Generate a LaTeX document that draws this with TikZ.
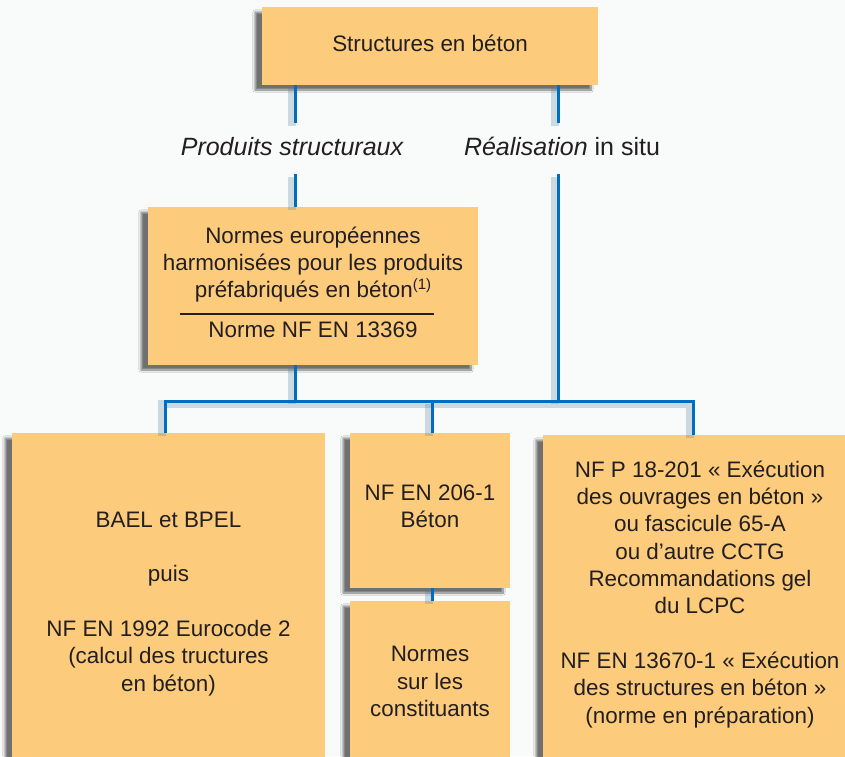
\documentclass[tikz,border=0pt]{standalone}
\usepackage{fontspec}
\setmainfont{Liberation Sans}
\usetikzlibrary{shadows.blur}

\definecolor{boxfill}{RGB}{252,203,123}
\definecolor{linkblue}{RGB}{0,110,190}
\definecolor{inkgrey}{RGB}{35,31,32}
\definecolor{paper}{RGB}{249,250,250}
\newcommand{\boxfont}{\fontsize{22.4pt}{27.3pt}\selectfont}
\newcommand{\branchfont}{\fontsize{25pt}{30pt}\selectfont}
\newcommand{\notemark}[1]{\raisebox{8pt}{\fontsize{15pt}{15pt}\selectfont #1}}

\begin{document}
\begin{tikzpicture}[x=1pt, y=-1pt,
	normbox/.style={rectangle, fill=boxfill, align=center, text=inkgrey, font=\boxfont, inner sep=0pt,
		blur shadow={shadow xshift=-7pt, shadow yshift=-5pt, shadow blur steps=10, shadow opacity=55},
		execute at begin node=\strut, execute at end node=\strut},
	branch/.style={text=inkgrey, font=\branchfont, anchor=base, text height=18pt, text depth=5pt,
		inner xsep=0pt, inner ysep=14pt},
	link/.style={draw=linkblue, line width=3pt,
		preaction={draw=linkblue!40!gray, line width=8pt, opacity=.25,
			transform canvas={shift={(-3pt,-3pt)}}}},
	rulebar/.style={draw=inkgrey, line width=1.5pt}]
	\useasboundingbox (0,0) rectangle (845,756);
	\fill [paper] (0,0) rectangle (845,756);

	% boxes
	\node [normbox, minimum width=336pt, minimum height=78pt] (top) at (430,46) {Structures en béton};
	\node [normbox, minimum width=330pt, minimum height=158pt] (prefab) at (313,286)
		{Normes européennes\\harmonisées pour les produits\\préfabriqués en béton\notemark{(1)}\\[12pt]Norme NF EN 13369};
	\draw [rulebar] ([shift={(32,28)}]prefab.west) -- ([shift={(-44,28)}]prefab.east);
	\node [normbox, minimum width=313pt, minimum height=345pt] (calc) at (168.5,605.5)
		{BAEL et BPEL\\[27.3pt]puis\\[27.3pt]NF EN 1992 Eurocode 2\\(calcul des tructures\\en béton)};
	\node [normbox, minimum width=160pt, minimum height=155pt] (beton) at (430,510.5) {NF EN 206-1\\Béton};
	\node [normbox, minimum width=160pt, minimum height=169pt] (const) at (430,685.5) {Normes\\sur les\\constituants};
	\node [normbox, minimum width=314pt, minimum height=322pt] (exec) at (700,596)
		{NF P 18-201 « Exécution\\des ouvrages en béton »\\ou fascicule 65-A\\ou d’autre CCTG\\Recommandations gel\\du LCPC\\[27.3pt]NF EN 13670-1 « Exécution\\des structures en béton »\\(norme en préparation)};

	% branch labels
	\node [branch] (prod) at (292,155) {\itshape Produits structuraux};
	\node [branch] (real) at (562,155) {\textit{Réalisation} in situ};

	% connectors
	\coordinate (prodx) at (295,0);
	\coordinate (realx) at (558,0);
	\coordinate (busw) at (165,401);
	\coordinate (busm) at (432,401);
	\coordinate (buse) at (693,401);
	\draw [link] (top.south -| prodx) -- (prod.north -| prodx);
	\draw [link] (top.south -| realx) -- (real.north -| realx);
	\draw [link] (prod.south -| prodx) -- (prefab.north -| prodx);
	\draw [link] (prefab.south -| prodx) -- (busm -| prodx);
	\draw [link] (real.south -| realx) -- (busm -| realx);
	\draw [link] (calc.north -| busw) -- (busw) -- (buse) -- (exec.north -| buse);
	\draw [link] (busm) -- (beton.north -| busm);
	\draw [link] (beton.south -| busm) -- (const.north -| busm);
\end{tikzpicture}
\end{document}
